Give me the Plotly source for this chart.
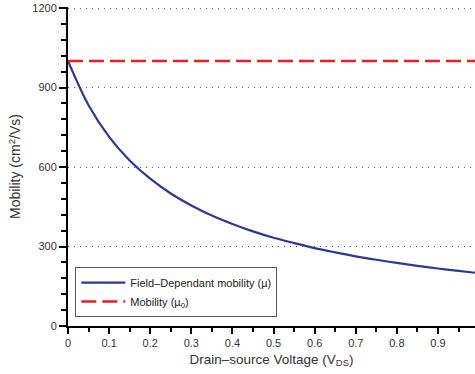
import plotly.graph_objects as go

# Drain-source voltage (V) and field-dependent mobility (cm^2/Vs)
vds = [0.0, 0.05, 0.1, 0.15, 0.2, 0.25, 0.3, 0.35, 0.4, 0.45, 0.5,
       0.55, 0.6, 0.65, 0.7, 0.75, 0.8, 0.85, 0.9, 0.95, 0.99]
mu_field = [1000, 833, 714, 625, 556, 500, 455, 417, 385, 357, 333,
            313, 294, 278, 263, 250, 238, 227, 217, 208, 201]
mu0_x = [0.0, 0.99]
mu0_y = [1000, 1000]

x_ticks = [0, 0.1, 0.2, 0.3, 0.4, 0.5, 0.6, 0.7, 0.8, 0.9]
y_ticks = [0, 300, 600, 900, 1200]

font = "Liberation Sans, Arial, sans-serif"

fig = go.Figure()
fig.add_trace(go.Scatter(
    x=vds, y=mu_field, mode="lines", line_shape="spline",
    line=dict(color="#2a3a92", width=2.2),
    name="Field\u2013Dependant mobility (\u00b5)"))
fig.add_trace(go.Scatter(
    x=mu0_x, y=mu0_y, mode="lines",
    line=dict(color="#ec1c24", width=2.5, dash="15px,6px"),
    name="Mobility (\u00b5<sub>0</sub>)"))

fig.update_layout(
    width=475, height=374,
    margin=dict(l=68, r=0, t=7, b=48),
    paper_bgcolor="white", plot_bgcolor="white",
    font=dict(family=font, color="#333333", size=11),
    showlegend=True,
    legend=dict(x=0.018, y=0.028, xanchor="left", yanchor="bottom",
                bordercolor="#555555", borderwidth=1, bgcolor="white",
                font=dict(size=11, color="#222222"),
                tracegroupgap=0, itemwidth=44),
    xaxis=dict(
        range=[0, 0.99], tickvals=x_ticks,
        ticktext=[str(t) for t in x_ticks],
        showgrid=False, zeroline=False,
        showline=True, linecolor="black", linewidth=2,
        ticks="outside", ticklen=6, tickwidth=2, tickcolor="black",
        minor=dict(dtick=0.05, ticks="outside", ticklen=4, tickwidth=2,
                   tickcolor="black", showgrid=False),
        tickfont=dict(size=11, color="#333333"),
        title=dict(text="Drain\u2013source Voltage (V<sub>DS</sub>)",
                   font=dict(size=13.5, color="#333333"), standoff=6),
    ),
    yaxis=dict(
        range=[0, 1204], tickvals=y_ticks,
        showgrid=True, gridcolor="#555555", griddash="1.2px,4.8px", gridwidth=1.2,
        zeroline=False,
        showline=True, linecolor="black", linewidth=2,
        ticks="outside", ticklen=7, tickwidth=2, tickcolor="black",
        minor=dict(dtick=60, ticks="outside", ticklen=5, tickwidth=2,
                   tickcolor="black", showgrid=False),
        tickfont=dict(size=11, color="#333333"),
        title=dict(text="Mobility (cm<sup>2</sup>/Vs)",
                   font=dict(size=14, color="#333333"), standoff=8),
    ),
)

fig.write_html("out.html")
